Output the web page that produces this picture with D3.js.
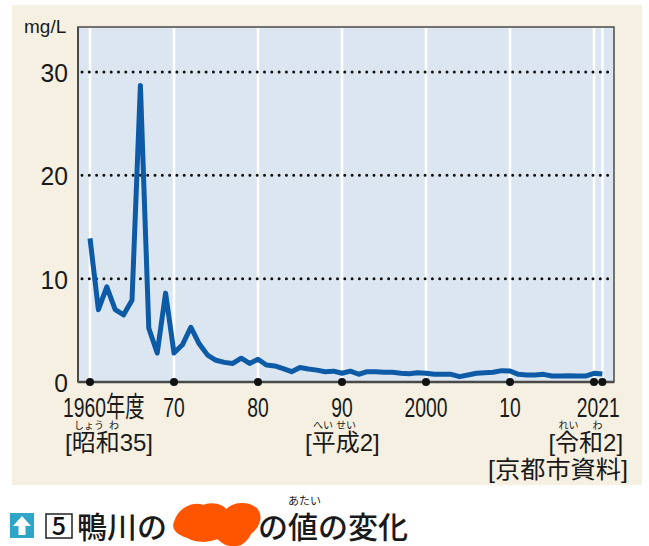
<!DOCTYPE html>
<html>
<head>
<meta charset="utf-8">
<script src="https://cdn.jsdelivr.net/npm/d3@7"></script>
<style>
    html, body { margin: 0; padding: 0; background: #ffffff; }
    svg { display: block; }
    .num { font-family: "Liberation Sans", Arial, "Noto Sans CJK JP", sans-serif; fill: #1a1a1a; }
    .jp { font-family: "Noto Sans CJK JP", sans-serif; fill: #1a1a1a; }
</style>
</head>
<body>
<svg id="chart" width="649" height="546"></svg>
<script>
// 鴨川 BOD (mg/L), 1960–2021
const startYear = 1960;
const values = [
    13.9, 7.0, 9.2, 7.0, 6.5, 7.9, 28.7, 5.2, 2.8, 8.6,
    2.8, 3.6, 5.3, 3.7, 2.6, 2.1, 1.9, 1.8, 2.3, 1.8,
    2.2, 1.65, 1.55, 1.3, 1.0, 1.4, 1.25, 1.15, 1.0, 1.05,
    0.85, 1.05, 0.75, 1.0, 1.0, 0.95, 0.95, 0.85, 0.8, 0.9,
    0.84, 0.74, 0.74, 0.74, 0.52, 0.68, 0.84, 0.9, 0.94, 1.1,
    1.07, 0.74, 0.68, 0.68, 0.74, 0.58, 0.58, 0.6, 0.58, 0.58,
    0.84, 0.77,
];
const yTicks = [0, 10, 20, 30];
const xTicks = [1960, 1970, 1980, 1990, 2000, 2010, 2020, 2021];
const xTickLabels = [
    { year: 1960, text: '1960年度', anchor: 'start', dx: -27 },
    { year: 1970, text: '70', anchor: 'middle', dx: 0 },
    { year: 1980, text: '80', anchor: 'middle', dx: 0 },
    { year: 1990, text: '90', anchor: 'middle', dx: 0 },
    { year: 2000, text: '2000', anchor: 'middle', dx: 0 },
    { year: 2010, text: '10', anchor: 'middle', dx: 0 },
    { year: 2020.5, text: '2021', anchor: 'middle', dx: 0 },
];
// era labels with their ruby
const eraLabels = [
    { year: 1960, text: '[昭和35]', dx: -25, ruby: [{ t: 'しょう', dx: 9 }, { t: 'わ', dx: 44 }] },
    { year: 1990, text: '[平成2]', dx: -37, ruby: [{ t: 'へい', dx: 8 }, { t: 'せい', dx: 31 }] },
    { year: 2021, text: '[令和2]', dx: -54, ruby: [{ t: 'れい', dx: 10 }, { t: 'わ', dx: 44 }] },
];

const data = values.map((v, i) => ({ year: startYear + i, value: v }));

const svg = d3.select('#chart');
const frame = { left: 78, right: 614, top: 27, bottom: 382 };

const x = d3.scaleLinear().domain([1960, 2020]).range([90, 594]);
const y = d3.scaleLinear().domain([0, 30]).range([frame.bottom, 72]);

// text squeezed horizontally, like the condensed face of the source
const squeeze = (sel, px, py, sx) => sel.attr('transform', `translate(${ px }, ${ py }) scale(${ sx }, 1)`);

// cream panel
svg.append('rect')
    .attr('x', 12).attr('y', 5)
    .attr('width', 630).attr('height', 480)
    .attr('fill', '#f5f0e1');

// plot background
svg.append('rect')
    .attr('x', frame.left).attr('y', frame.top)
    .attr('width', frame.right - frame.left)
    .attr('height', frame.bottom - frame.top)
    .attr('fill', '#dce6f0');

// white vertical grid lines
svg.append('g')
    .selectAll('line')
    .data(xTicks)
    .enter()
    .append('line')
    .attr('x1', (d) => x(d)).attr('x2', (d) => x(d))
    .attr('y1', frame.top + 1).attr('y2', frame.bottom)
    .attr('stroke', '#ffffff')
    .attr('stroke-width', 2.5);

// dotted horizontal grid lines
svg.append('g')
    .selectAll('line')
    .data(yTicks.filter((d) => d > 0))
    .enter()
    .append('line')
    .attr('x1', frame.left + 4).attr('x2', 610)
    .attr('y1', (d) => y(d)).attr('y2', (d) => y(d))
    .attr('stroke', '#111111')
    .attr('stroke-width', 3)
    .attr('stroke-linecap', 'round')
    .attr('stroke-dasharray', '0,7.3');

// frame
svg.append('rect')
    .attr('x', frame.left).attr('y', frame.top)
    .attr('width', frame.right - frame.left)
    .attr('height', frame.bottom - frame.top)
    .attr('fill', 'none')
    .attr('stroke', '#4a4a4a')
    .attr('stroke-width', 1.5);
svg.append('line')
    .attr('x1', frame.left).attr('x2', frame.right)
    .attr('y1', frame.bottom).attr('y2', frame.bottom)
    .attr('stroke', '#4a4a4a')
    .attr('stroke-width', 2.5);
svg.append('line')
    .attr('x1', frame.left).attr('x2', frame.left)
    .attr('y1', frame.top).attr('y2', frame.bottom)
    .attr('stroke', '#4a4a4a')
    .attr('stroke-width', 2);

// data line
const line = d3.line()
    .x((d) => x(d.year))
    .y((d) => y(d.value));
svg.append('path')
    .datum(data)
    .attr('d', line)
    .attr('fill', 'none')
    .attr('stroke', '#0d5aa7')
    .attr('stroke-width', 5)
    .attr('stroke-linejoin', 'round')
    .attr('stroke-linecap', 'butt');

// tick dots
svg.append('g')
    .selectAll('circle')
    .data(xTicks)
    .enter()
    .append('circle')
    .attr('cx', (d) => x(d))
    .attr('cy', frame.bottom)
    .attr('r', 4)
    .attr('fill', '#111111');

// y labels
svg.append('g')
    .selectAll('text')
    .data(yTicks)
    .enter()
    .append('text')
    .attr('class', 'num')
    .attr('text-anchor', 'end')
    .style('font-size', '26px')
    .text((d) => d)
    .each(function (d) { squeeze(d3.select(this), 68, y(d) + 10, 0.95); });

squeeze(svg.append('text'), 24, 33, 1)
    .attr('class', 'num')
    .style('font-size', '19px')
    .text('mg/L');

// x labels
svg.append('g')
    .selectAll('text')
    .data(xTickLabels)
    .enter()
    .append('text')
    .attr('class', 'num')
    .attr('text-anchor', (d) => d.anchor)
    .style('font-size', '28px')
    .text((d) => d.text)
    .each(function (d) { squeeze(d3.select(this), x(d.year) + d.dx, 417, 0.69); });

// era labels
const era = svg.append('g')
    .selectAll('g')
    .data(eraLabels)
    .enter()
    .append('g')
    .attr('transform', (d) => `translate(${ x(d.year) + d.dx }, 0)`);
era.append('text')
    .attr('class', 'num')
    .style('font-size', '24px')
    .text((d) => d.text)
    .each(function () { squeeze(d3.select(this), 0, 451, 1); });
era.selectAll('.ruby')
    .data((d) => d.ruby)
    .enter()
    .append('text')
    .attr('class', 'jp ruby')
    .attr('x', (r) => r.dx)
    .attr('y', 429)
    .style('font-size', '10px')
    .text((r) => r.t);

svg.append('text')
    .attr('class', 'num')
    .attr('text-anchor', 'end')
    .style('font-size', '24px')
    .text('[京都市資料]')
    .call(squeeze, 628, 478, 1.05);

// caption
const cap = svg.append('g');
cap.append('rect')
    .attr('x', 10).attr('y', 513)
    .attr('width', 24).attr('height', 25)
    .attr('fill', '#2fa6c8');
cap.append('path')
    .attr('d', 'M22,516 L31,526 L25.5,526 L25.5,535 L18.5,535 L18.5,526 L13,526 Z')
    .attr('fill', '#ffffff');
cap.append('rect')
    .attr('x', 46).attr('y', 514)
    .attr('width', 26).attr('height', 24)
    .attr('fill', '#ffffff')
    .attr('stroke', '#222222')
    .attr('stroke-width', 1.5);
cap.append('text')
    .attr('x', 59).attr('y', 535)
    .attr('text-anchor', 'middle')
    .style('font-family', '"Noto Sans CJK JP", sans-serif')
    .style('font-size', '25px')
    .style('font-weight', 500)
    .attr('fill', '#111111')
    .text('5');
cap.append('text')
    .attr('class', 'jp')
    .attr('x', 77).attr('y', 538)
    .style('font-size', '30px')
    .style('font-weight', 500)
    .text('鴨川の');
// hidden word (scribbled over in the source)
cap.append('path')
    .attr('d', 'M176,522 C180,510 192,503 203,507 C212,503 222,506 226,512 C234,503 248,503 256,510 C262,518 256,528 250,532 C246,540 240,545 233,544 C226,545 222,540 218,537 C208,541 196,541 188,536 C178,533 173,528 176,522 Z')
    .attr('fill', '#ff5500')
    .attr('stroke', '#ff5500')
    .attr('stroke-width', 4)
    .attr('stroke-linejoin', 'round');
cap.append('text')
    .attr('class', 'jp')
    .attr('x', 258).attr('y', 538)
    .style('font-size', '30px')
    .style('font-weight', 500)
    .text('の値の変化');
cap.append('text')
    .attr('class', 'jp')
    .attr('x', 288).attr('y', 505)
    .style('font-size', '11px')
    .text('あたい');
</script>
</body>
</html>
